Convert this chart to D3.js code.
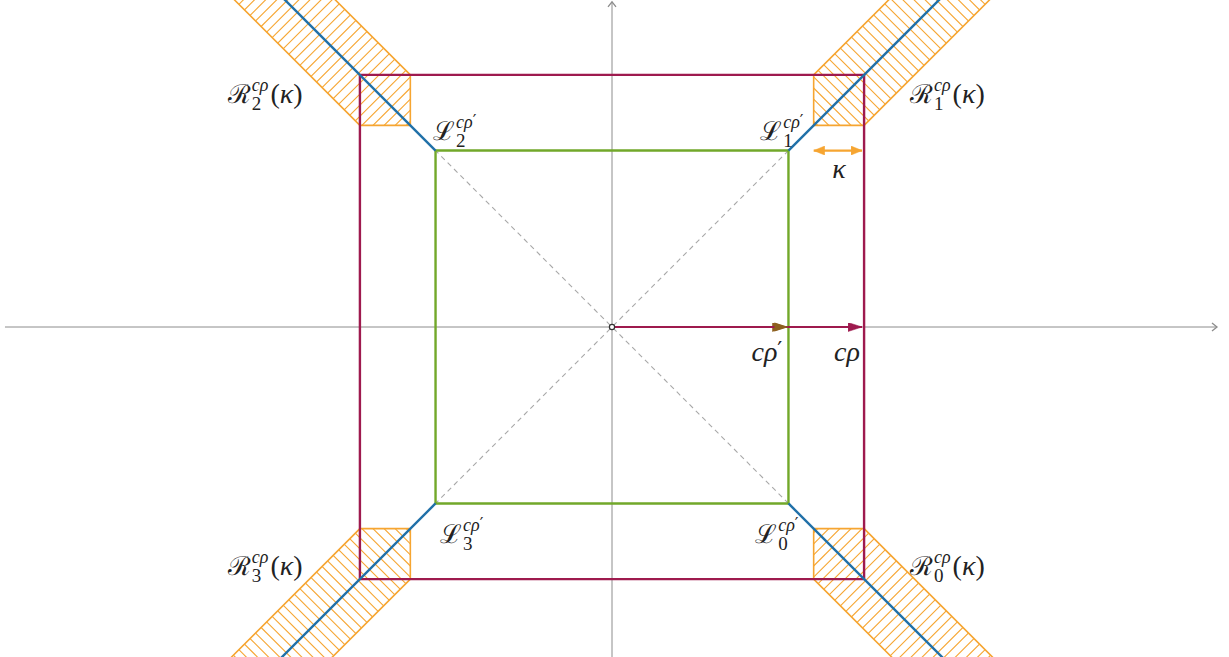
<!DOCTYPE html>
<html>
<head>
<meta charset="utf-8">
<script src="https://cdn.jsdelivr.net/npm/d3@7"></script>
<style>
body { margin: 0; background: #fff; }
text { font-family: "Liberation Serif", "DejaVu Serif", serif; fill: #222; }
.script { font-family: "DejaVu Serif", serif; }
.prime { font-family: "DejaVu Sans", sans-serif; font-style: normal; }
</style>
</head>
<body>
<div id="chart"></div>
<script>
const W = 1229
const H = 657

// geometry (in plot units)
const rho = 5          // c rho, outer square half side
const rhoPrime = 3.5   // c rho', inner square half side
const kappa = 1
const hatchStep = 0.22

// quadrant index -> sign of x / sign of y
const quadrants = [0, 1, 2, 3]
const signX = [1, 1, -1, -1]
const signY = [-1, 1, 1, -1]

// label anchors (plot units)
const rLabelX = [5.91, 5.91, -7.62, -7.62]
const rLabelY = [-4.92, 4.45, 4.45, -4.92]
const lLabelX = [2.84, 2.94, -3.55, -3.41]
const lLabelY = [-4.29, 3.71, 3.71, -4.29]

const COLORS = {axis: '#8c8c8c', dash: '#a8a8a8', outer: '#9e1a4e', inner: '#72a82a',
    diag: '#2070a8', band: '#f6a531', inArrow: '#8c5f1e'}

const x = d3.scaleLinear().domain([-12, 12]).range([7, 1217])
const y = d3.scaleLinear().domain([-6.5, 6.5]).range([654.7, -0.7])

const svg = d3.select('#chart').append('svg')
    .attr('width', W)
    .attr('height', H)

const defs = svg.append('defs')

function marker(id, color, path, w, h, refX, filled) {
    defs.append('marker')
        .attr('id', id)
        .attr('viewBox', `0 0 ${w} ${h}`)
        .attr('refX', refX).attr('refY', h / 2)
        .attr('markerWidth', w).attr('markerHeight', h)
        .attr('markerUnits', 'userSpaceOnUse')
        .attr('orient', 'auto-start-reverse')
        .append('path')
        .attr('d', path)
        .attr('fill', filled ? color : 'none')
        .attr('stroke', color)
        .attr('stroke-width', filled ? 0.5 : 1.3)
}
marker('axisHead', COLORS.axis, 'M1,1 L6,5 L1,9', 8, 10, 6, false)
marker('outerHead', COLORS.outer, 'M0,0 L14,4.5 L0,9 Z', 14, 9, 14, true)
marker('innerHead', COLORS.inArrow, 'M0,0 L14,4.5 L0,9 Z', 14, 9, 14, true)
marker('kapHead', COLORS.band, 'M0,0 L11,4.5 L0,9 Z', 11, 9, 11, true)

const line = d3.line().x(d => x(d[0])).y(d => y(d[1]))

// axes
svg.append('line')
    .attr('x1', x(-12.04)).attr('x2', x(12.0))
    .attr('y1', y(0)).attr('y2', y(0))
    .attr('stroke', COLORS.axis).attr('stroke-width', 1)
    .attr('marker-end', 'url(#axisHead)')
svg.append('line')
    .attr('x1', x(0)).attr('x2', x(0))
    .attr('y1', y(-6.6)).attr('y2', y(6.45))
    .attr('stroke', COLORS.axis).attr('stroke-width', 1)
    .attr('marker-end', 'url(#axisHead)')

// dashed diagonals of inner square
svg.selectAll('.dashdiag')
    .data([0, 1])
    .enter().append('path')
    .attr('class', 'dashdiag')
    .attr('d', i => line([[signX[i] * rhoPrime, signY[i] * rhoPrime], [signX[i + 2] * rhoPrime, signY[i + 2] * rhoPrime]]))
    .attr('stroke', COLORS.dash).attr('stroke-width', 1.1)
    .attr('stroke-dasharray', '5,4')
    .attr('fill', 'none')

// hatched regions R_k(kappa)
const L = 8
quadrants.forEach(k => {
    const sx = signX[k], sy = signY[k]
    const local = [[rho - kappa, rho - kappa], [rho, rho - kappa], [rho + L, rho - kappa + L],
        [rho - kappa + L, rho + L], [rho - kappa, rho]]
    const pts = local.map(p => [sx * p[0], sy * p[1]])
    defs.append('clipPath').attr('id', 'clip' + k)
        .append('path').attr('d', line(pts) + 'Z')

    const hatch = svg.append('g').attr('clip-path', `url(#clip${k})`)
    const cs = d3.range(2 * (rho - kappa) + 0.08, 2 * (rho + L), hatchStep)
    hatch.selectAll('line')
        .data(cs)
        .enter().append('line')
        .attr('x1', c => x(sx * (c / 2 - 3)))
        .attr('y1', c => y(sy * (c / 2 + 3)))
        .attr('x2', c => x(sx * (c / 2 + 3)))
        .attr('y2', c => y(sy * (c / 2 - 3)))
        .attr('stroke', COLORS.band).attr('stroke-width', 1.1)

    svg.append('path')
        .attr('d', line(pts) + 'Z')
        .attr('fill', 'none')
        .attr('stroke', COLORS.band).attr('stroke-width', 1.6)
})

// squares
const square = r => [[-r, -r], [r, -r], [r, r], [-r, r]]
svg.append('path')
    .attr('d', line(square(rho)) + 'Z')
    .attr('fill', 'none').attr('stroke', COLORS.outer).attr('stroke-width', 2.4)
svg.append('path')
    .attr('d', line(square(rhoPrime)) + 'Z')
    .attr('fill', 'none').attr('stroke', COLORS.inner).attr('stroke-width', 2.4)

// blue rays from inner corners
svg.selectAll('.ray')
    .data(quadrants)
    .enter().append('path')
    .attr('class', 'ray')
    .attr('d', k => line([[signX[k] * rhoPrime, signY[k] * rhoPrime], [signX[k] * 8, signY[k] * 8]]))
    .attr('stroke', COLORS.diag).attr('stroke-width', 2.4)
    .attr('fill', 'none')

// radius arrows
svg.append('line')
    .attr('x1', x(0)).attr('y1', y(0))
    .attr('x2', x(rhoPrime - 0.04)).attr('y2', y(0))
    .attr('stroke', COLORS.inArrow).attr('stroke-width', 2)
    .attr('marker-end', 'url(#innerHead)')
svg.append('line')
    .attr('x1', x(0)).attr('y1', y(0))
    .attr('x2', x(rho - 0.04)).attr('y2', y(0))
    .attr('stroke', COLORS.outer).attr('stroke-width', 2)
    .attr('marker-end', 'url(#outerHead)')
svg.append('path')
    .attr('d', `M${x(rhoPrime) - 14},${y(0) - 4.5} L${x(rhoPrime)},${y(0)} L${x(rhoPrime) - 14},${y(0) + 4.5} Z`)
    .attr('fill', COLORS.inArrow)

svg.append('circle')
    .attr('cx', x(0)).attr('cy', y(0)).attr('r', 2.6)
    .attr('fill', '#fff').attr('stroke', '#333').attr('stroke-width', 1.2)

// kappa arrow
svg.append('line')
    .attr('x1', x(rho - kappa)).attr('x2', x(rho) - 2)
    .attr('y1', y(rhoPrime)).attr('y2', y(rhoPrime))
    .attr('stroke', COLORS.band).attr('stroke-width', 2.2)
    .attr('marker-start', 'url(#kapHead)')
    .attr('marker-end', 'url(#kapHead)')

// labels
function mathLabel(px, py, main, sup, prime, sub, tail) {
    const g = svg.append('g').attr('transform', `translate(${px},${py})`)
    const m = g.append('text').attr('class', 'script').attr('font-size', 26).text(main)
    const w = m.node().getComputedTextLength()
    const s = g.append('text').attr('x', w + 1).attr('y', -12)
        .attr('font-size', 18).attr('font-style', 'italic').text(sup)
    if (prime) s.append('tspan').attr('class', 'prime').attr('font-size', 16).attr('dy', -2).text('′')
    g.append('text').attr('x', w + 1).attr('y', 7)
        .attr('font-size', 19).text(sub)
    if (tail) {
        const ws = s.node().getComputedTextLength()
        const t = g.append('text').attr('x', w + ws + 3).attr('y', 0)
            .attr('font-size', 28).text('(')
        t.append('tspan').attr('font-style', 'italic').text('κ')
        t.append('tspan').text(')')
    }
}

quadrants.forEach(k => {
    mathLabel(x(rLabelX[k]), y(rLabelY[k]), 'ℛ', 'cρ', false, String(k), true)
    mathLabel(x(lLabelX[k]), y(lLabelY[k]), 'ℒ', 'cρ', true, String(k), false)
})

const cp = svg.append('text').attr('x', x(rhoPrime) - 37).attr('y', y(0) + 34)
    .attr('font-size', 28).attr('font-style', 'italic').text('cρ')
cp.append('tspan').attr('class', 'prime').attr('font-size', 22).attr('dy', -4).text('′')
svg.append('text').attr('x', x(rho) - 30).attr('y', y(0) + 34)
    .attr('font-size', 28).attr('font-style', 'italic').text('cρ')
svg.append('text').attr('x', x(rho - kappa / 2)).attr('y', y(rhoPrime) + 27)
    .attr('font-size', 28).attr('font-style', 'italic')
    .attr('text-anchor', 'middle').text('κ')
</script>
</body>
</html>
